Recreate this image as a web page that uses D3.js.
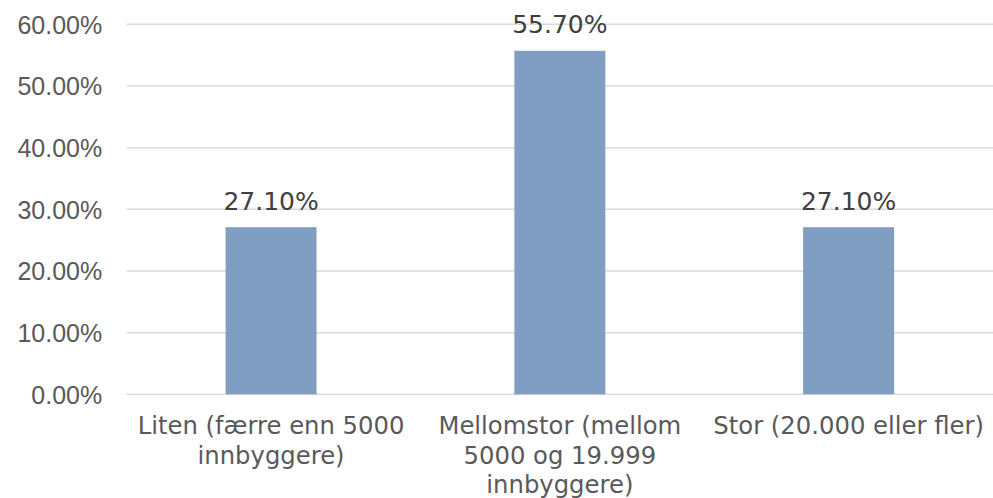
<!DOCTYPE html>
<html>
<head>
<meta charset="utf-8">
<script src="https://cdn.jsdelivr.net/npm/d3@7"></script>
<style>
  html, body { margin: 0; padding: 0; background: #fff; }
  svg { display: block; font-family: "DejaVu Sans", Verdana, sans-serif; }
</style>
</head>
<body>
<div id="chart"></div>
<script>
const categories = [
  'Liten (færre enn 5000 innbyggere)',
  'Mellomstor (mellom 5000 og 19.999 innbyggere)',
  'Stor (20.000 eller fler)'
];
const values = [0.271, 0.557, 0.271];
const yTicks = [0, 0.1, 0.2, 0.3, 0.4, 0.5, 0.6];

const width = 993, height = 498;
const margin = { top: 24.3, right: 0, bottom: 103.7, left: 126.7 };

const barColor = '#7f9ec2';
const gridColor = '#d9d9d9';
const tickColor = '#595959';
const labelColor = '#404040';
const fmt = d3.format('.2%');

const svg = d3.select('#chart')
  .append('svg')
  .attr('width', width)
  .attr('height', height);

const x = d3.scaleBand()
  .domain(categories)
  .range([margin.left, width - margin.right])
  .paddingInner(0.685)
  .paddingOuter(0.3425);

const y = d3.scaleLinear()
  .domain([0, 0.6])
  .range([height - margin.bottom, margin.top]);

// gridlines
svg.append('g')
  .selectAll('line')
  .data(yTicks)
  .join('line')
  .attr('x1', margin.left)
  .attr('x2', width - margin.right)
  .attr('y1', d => y(d))
  .attr('y2', d => y(d))
  .attr('stroke', gridColor)
  .attr('stroke-width', 1.5);

// y tick labels
const yAxis = svg.append('g')
  .attr('transform', `translate(${margin.left - 24.5}, 0)`)
  .call(d3.axisLeft(y).tickValues(yTicks).tickFormat(fmt).tickSize(0).tickPadding(0));
yAxis.select('.domain').remove();
yAxis.selectAll('text')
  .attr('fill', tickColor)
  .style('font-size', '25px')
  .attr('dy', '0.35em');

// bars
svg.append('g')
  .selectAll('rect')
  .data(values)
  .join('rect')
  .attr('x', (d, i) => x(categories[i]))
  .attr('width', x.bandwidth())
  .attr('y', d => y(d))
  .attr('height', d => y(0) - y(d))
  .attr('fill', barColor);

// value labels
svg.append('g')
  .selectAll('text')
  .data(values)
  .join('text')
  .attr('x', (d, i) => x(categories[i]) + x.bandwidth() / 2)
  .attr('y', d => y(d) - 17.5)
  .attr('text-anchor', 'middle')
  .attr('fill', labelColor)
  .style('font-size', '25px')
  .text(d => fmt(d));

// category labels, wrapped to the band width
const step = x.step();
const catG = svg.append('g');
categories.forEach(c => {
  const cx = x(c) + x.bandwidth() / 2;
  const t = catG.append('text')
    .attr('x', cx)
    .attr('y', y(0) + 40)
    .attr('text-anchor', 'middle')
    .attr('fill', tickColor)
    .style('font-size', '24.3px');
  const words = c.split(' ');
  let line = [];
  let ts = t.append('tspan').attr('x', cx).attr('dy', 0);
  words.forEach(w => {
    line.push(w);
    ts.text(line.join(' '));
    if (ts.node().getComputedTextLength() > step - 10 && line.length > 1) {
      line.pop();
      ts.text(line.join(' '));
      line = [w];
      ts = t.append('tspan').attr('x', cx).attr('dy', 29.5).text(w);
    }
  });
});
</script>
</body>
</html>
